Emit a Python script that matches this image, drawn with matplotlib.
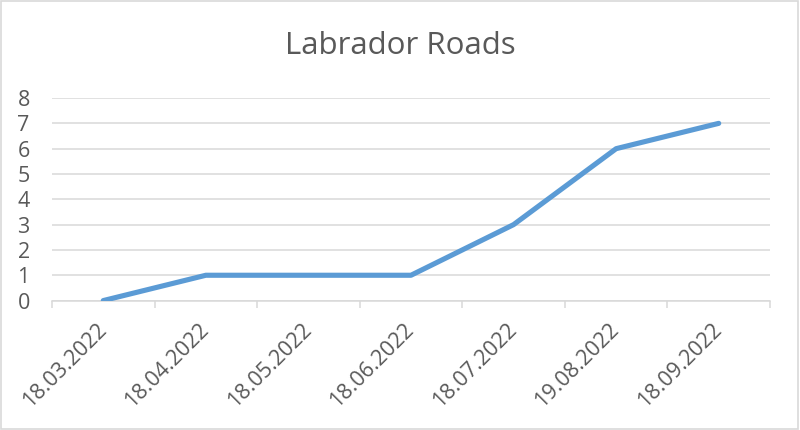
import matplotlib
matplotlib.use("Agg")
import matplotlib.pyplot as plt
from matplotlib.patches import Rectangle
from matplotlib.ticker import FixedLocator

dates = ["18.03.2022", "18.04.2022", "18.05.2022", "18.06.2022",
         "18.07.2022", "19.08.2022", "18.09.2022"]
roads = [0, 1, 1, 1, 3, 6, 7]

TEXT = "#595959"
GRID = "#D9D9D9"
BLUE = "#5B9BD5"

plt.rcParams["font.family"] = ["Open Sans", "DejaVu Sans"]

fig = plt.figure(figsize=(8, 4.3), dpi=100)
ax = fig.add_axes([0.065, 0.301, 0.8975, 0.471])

x = list(range(len(dates)))
ax.plot(x, roads, color=BLUE, lw=3.7, solid_capstyle="round",
        solid_joinstyle="round", zorder=3)

ax.set_xlim(-0.5, len(dates) - 0.5)
ax.set_ylim(0, 8)
ax.set_yticks(range(0, 9))
ax.grid(axis="y", color=GRID, lw=1.1)
ax.set_axisbelow(True)

for s in ("top", "right", "left"):
    ax.spines[s].set_visible(False)
ax.spines["bottom"].set_color(GRID)
ax.spines["bottom"].set_linewidth(1.1)

ax.set_xticks(x)
ax.set_xticklabels(dates, rotation=45, ha="right", va="center",
                   rotation_mode="anchor", fontsize=15.5, color=TEXT)
ax.tick_params(axis="x", which="major", length=0, pad=19)
ax.xaxis.set_minor_locator(FixedLocator([i - 0.5 for i in range(len(dates) + 1)]))
ax.tick_params(axis="x", which="minor", length=5, color=GRID, width=1.1)
ax.tick_params(axis="y", length=0, pad=16, labelsize=15.5, labelcolor=TEXT)

fig.text(0.5, 0.893, "Labrador Roads", ha="center", va="center",
         fontsize=22.5, color=TEXT)

fig.patches.append(Rectangle((0.001, 0.002), 0.997, 0.995, transform=fig.transFigure,
                             fill=False, edgecolor=GRID, lw=1.2))

fig.savefig("out.png", dpi=100)
